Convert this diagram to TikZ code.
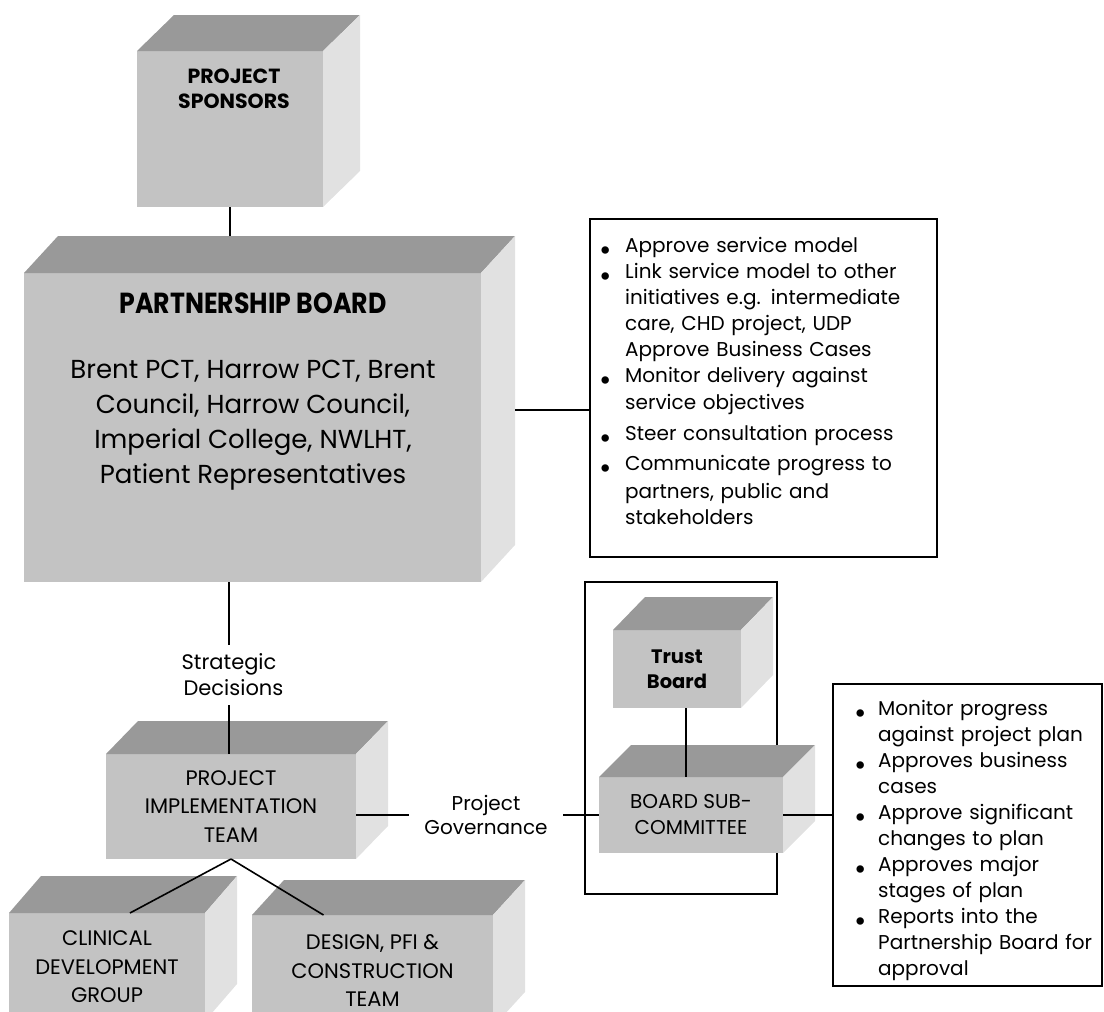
\documentclass[tikz,border=0pt]{standalone}
\usepackage{fontspec}
\setmainfont{Poppins}
\newfontfamily\ttlfont{Poppins}[FakeStretch=0.87]
\definecolor{cfront}{RGB}{195,195,195}
\definecolor{ctop}{RGB}{153,153,153}
\definecolor{cside}{RGB}{225,225,225}
\newcommand\fsz[2]{\fontsize{#1}{#2}\selectfont}
\newcommand\cubefaces[3]{%
  \fill[ctop] (#1.north west) -- ++(#2,-#3) -- ([shift={(#2,-#3)}]#1.north east) -- (#1.north east) -- cycle;
  \fill[cside] (#1.north east) -- ++(#2,-#3) -- ([shift={(#2,-#3)}]#1.south east) -- (#1.south east) -- cycle;}
\newcommand\bul[1]{\leavevmode\llap{\smash{\raisebox{-8.5pt}{\fontsize{30}{26}\selectfont •}}\hspace{#1}}}
\begin{document}
\begin{tikzpicture}[x=1pt,y=-1pt,
  front/.style={fill=cfront, draw=none, inner sep=0pt, outer sep=0pt, anchor=north west, align=center},
  framebox/.style={draw=black, line width=2pt, inner sep=0pt, outer sep=0pt, anchor=north west},
  conn/.style={draw=black, line width=1.6pt},
  captext/.style={font=\fsz{21}{28.5}},
  bultext/.style={anchor=base west, text width=300pt, inner sep=0pt, align=left, font=\fsz{20}{26}},
  ttl/.style={font=\bfseries\fsz{20.5}{25}, align=center, inner sep=0pt}]
\useasboundingbox (0,0) rectangle (1104,1012);
\begin{scope}
\clip (0,0) rectangle (1104,1012);
% frames
\node[framebox, minimum width=347, minimum height=338] (b1) at (590,219) {};
\node[framebox, minimum width=269, minimum height=302] (b2) at (833,684) {};
\node[framebox, minimum width=192, minimum height=312] (tf) at (585,582) {};
% cubes
\node[front, minimum width=186, minimum height=156] (sp) at (137,51) {};
\cubefaces{sp}{37}{36}
\node[front, minimum width=457, minimum height=309] (pb) at (24,273) {};
\cubefaces{pb}{34}{37}
\node[front, captext, minimum width=250, minimum height=105] (pit) at (106,754) {PROJECT\\IMPLEMENTATION\\TEAM};
\cubefaces{pit}{32}{33}
\node[front, captext, minimum width=196, minimum height=108] (cdg) at (9,913) {CLINICAL\\DEVELOPMENT\\GROUP};
\cubefaces{cdg}{32}{37}
\node[front, captext, minimum width=241, minimum height=112] (ds) at (252,915) {DESIGN, PFI \&\\CONSTRUCTION\\TEAM};
\cubefaces{ds}{32}{35}
\node[front, minimum width=128, minimum height=78, font=\bfseries\fsz{19.5}{25}] (tb) at (613,630) {Trust\\Board};
\cubefaces{tb}{32}{33}
\node[front, minimum width=184, minimum height=76, font=\fsz{20}{26}] (bs) at (599,777) {BOARD SUB-\\COMMITTEE};
\cubefaces{bs}{32}{32}
% texts
\node[ttl] (spt) at (234,88.5) {PROJECT\\SPONSORS};
\node[ttl, font=\ttlfont\bfseries\fsz{29}{30}] (pbt) at (253,303) {PARTNERSHIP BOARD};
\node[align=center, inner sep=0pt, font=\fsz{26}{35}] (pbb) at (253,425) {Brent PCT, Harrow PCT, Brent\\Council, Harrow Council,\\Imperial College, NWLHT,\\Patient Representatives};
\node[bultext] (b1t) at (625,252) {\bul{13pt}Approve service model\\
\bul{13pt}Link service model to other\\
initiatives e.g. intermediate\\
care, CHD project, UDP\\
Approve Business Cases\\
\bul{13pt}Monitor delivery against\\[1pt]
service objectives\\[5pt]
\bul{13pt}Steer consultation process\\[4pt]
\bul{13pt}Communicate progress to\\[2pt]
partners, public and\\
stakeholders};
\node[bultext, text width=230pt] (b2t) at (878,715) {\bul{11pt}Monitor progress\\
against project plan\\
\bul{11pt}Approves business\\
cases\\
\bul{11pt}Approve significant\\
changes to plan\\
\bul{11pt}Approves major\\
stages of plan\\
\bul{11pt}Reports into the\\
Partnership Board for\\
approval};
\node[align=center, minimum height=60, inner sep=0pt, font=\fsz{21}{26}] (sd) at (229,675) {Strategic\\\hspace*{9pt}Decisions};
\node[align=center, minimum width=154, inner sep=0pt, font=\fsz{20}{24}] (gl) at (486,815) {Project\\Governance};
% connectors
\coordinate (pbback) at ([shift={(0,-37)}]pb.north);
\draw[conn] (sp.south) -- (sp.south |- pbback);
\draw[conn] (pb.south -| sd) -- (sd.north);
\draw[conn] (sd.south) -- (pit.north -| sd);
\coordinate (pbr) at (515,410);
\draw[conn] (pbr) -- (pbr -| b1.west);
\draw[conn] (pit.east |- gl.west) -- (gl.west);
\draw[conn] (gl.east) -- (bs.west |- gl.east);
\draw[conn] ([xshift=9pt]tb.south) -- ([xshift=9pt]tb.south |- bs.north);
\draw[conn] (bs.east) -- (bs.east -| b2.west);
\draw[conn] (pit.south) -- ([xshift=23pt]cdg.north);
\draw[conn] (pit.south) -- ([xshift=-49pt]ds.north);
\end{scope}
\end{tikzpicture}
\end{document}
